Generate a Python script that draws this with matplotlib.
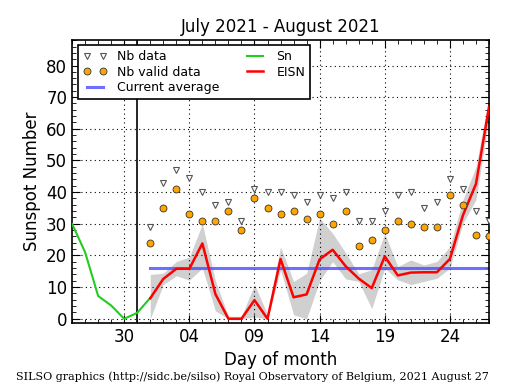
import matplotlib
matplotlib.use("Agg")
import matplotlib.pyplot as plt
import matplotlib.dates as mdates
import pandas as pd
import numpy as np

# Sn (green), Jul 26 .. Aug 1
sn_dates = pd.date_range("2021-07-26", "2021-08-01")
sn_values = [30, 21, 7.2, 4.2, 0, 1.9, 6.6]

# EISN, Aug 1 .. Aug 27
eisn_dates = pd.date_range("2021-08-01", "2021-08-27")
eisn_values = [6.5, 12.6, 15.8, 15.8, 23.8, 7.8, 0, 0, 5.9, 0, 18.9, 6.8, 7.7,
               18.8, 21.8, 16.6, 12.7, 9.7, 19.7, 13.7, 14.6, 14.7, 14.7, 18.9,
               32.7, 42.6, 66.8]
band_upper = [14.0, 14.4, 18.1, 19.5, 30.0, 12.0, 0.8, 0.8, 10.8, 1.4, 22.8,
              11.8, 14.4, 31.8, 27.0, 20.8, 14.2, 15.5, 27.0, 16.5, 18.6, 17.0,
              18.1, 22.8, 37.6, 48.0, 70.0]
band_lower = [0, 10.8, 13.6, 12.2, 16.0, 2.5, 0, 0, 0.6, 0, 15.5, 1.3, 0,
              12.0, 18.1, 12.6, 11.8, 3.2, 16.0, 12.3, 10.8, 11.8, 12.8, 16.0,
              30.2, 37.6, 63.4]
nb_data = [29, 43, 47, 44.5, 40, 36, 37, 31, 41, 40, 40, 39, 37, 39, 38, 40,
           31, 31, 34, 39, 40, 35, 37, 44, 41, 34, 31]
nb_valid = [24, 35, 41, 33, 31, 31, 34, 28, 38, 35, 33, 34, 31.6, 33, 30, 34,
            23, 25, 28, 31, 30, 29, 29, 39, 36, 26.5, 26]
current_average = 16.2

x_start = pd.Timestamp("2021-07-26")
x_end = pd.Timestamp("2021-08-27")
month_boundary = pd.Timestamp("2021-07-31")
major_days = pd.to_datetime(["2021-07-30", "2021-08-04", "2021-08-09",
                             "2021-08-14", "2021-08-19", "2021-08-24"])
major_labels = ["30", "04", "09", "14", "19", "24"]

fig = plt.figure(figsize=(5.15, 3.9), dpi=100)
ax = fig.add_axes([0.14, 0.172, 0.8095, 0.725])

ax.fill_between(eisn_dates, band_lower, band_upper, color="#d0d0d0", lw=0, zorder=1)
ax.plot(sn_dates, sn_values, color="#22cc22", lw=1.5, label="Sn", zorder=3)
ax.plot(eisn_dates, eisn_values, color="red", lw=1.8, label="EISN", zorder=4)
ax.plot(eisn_dates, nb_data, ls="none", marker="v", ms=4.5, mfc="white",
        mec="#555555", mew=0.8, label="Nb data", zorder=5)
ax.plot(eisn_dates, nb_valid, ls="none", marker="o", ms=5, mfc="#ffa500",
        mec="#333333", mew=0.6, label="Nb valid data", zorder=5)
ax.plot([eisn_dates[0], eisn_dates[-1]], [current_average, current_average],
        color="#5555ff", alpha=0.85, lw=2.2, label="Current average", zorder=2)
ax.axvline(month_boundary, color="black", lw=1.2, zorder=2)

ax.set_xlim(x_start, x_end)
ax.set_ylim(-1.3, 88)
ax.xaxis.set_major_locator(matplotlib.ticker.FixedLocator(mdates.date2num(major_days)))
ax.xaxis.set_major_formatter(matplotlib.ticker.FixedFormatter(major_labels))
ax.xaxis.set_minor_locator(mdates.DayLocator())
ax.yaxis.set_major_locator(matplotlib.ticker.MultipleLocator(10))
ax.yaxis.set_minor_locator(matplotlib.ticker.MultipleLocator(2))
ax.tick_params(which="both", direction="in", top=True, right=True, labelsize=12)
ax.tick_params(which="major", length=6)
ax.tick_params(which="minor", length=3)
ax.grid(True, which="major", ls=(0, (1, 3)), color="black", lw=0.8)
for s in ax.spines.values():
    s.set_linewidth(1.2)

ax.set_title("July 2021 - August 2021", fontsize=12)
ax.set_xlabel("Day of month", fontsize=12)
ax.set_ylabel("Sunspot Number", fontsize=12)

h, l = ax.get_legend_handles_labels()
order = [l.index(n) for n in ["Nb data", "Nb valid data", "Current average", "Sn", "EISN"]]
leg = ax.legend([h[i] for i in order], [l[i] for i in order], ncol=2,
                loc="upper left", bbox_to_anchor=(0.014, 0.982), borderaxespad=0,
                fontsize=9, numpoints=2, fancybox=False, edgecolor="black",
                framealpha=1, columnspacing=1.9, handlelength=1.9,
                handletextpad=0.8, borderpad=0.4, labelspacing=0.2)
leg.get_frame().set_linewidth(1.2)

fig.text(0.49, 0.025, "SILSO graphics (http://sidc.be/silso) Royal Observatory of Belgium, 2021 August 27",
         ha="center", fontsize=8, family="DejaVu Serif")

fig.savefig("out.png", dpi=100)
